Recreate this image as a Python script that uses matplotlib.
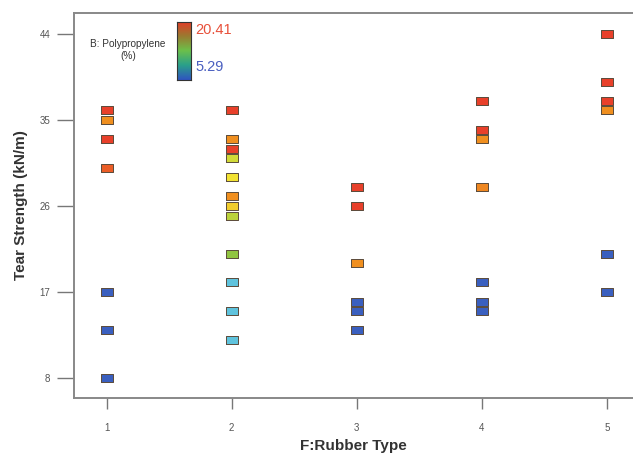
import matplotlib
matplotlib.use("Agg")
import matplotlib.pyplot as plt
import numpy as np
from matplotlib.colors import LinearSegmentedColormap, Normalize

plt.rcParams["font.family"] = ["Liberation Sans", "DejaVu Sans"]

# runs: rubber type, tear strength, polypropylene level
rubber_type = [1, 1, 1, 1, 1, 1, 1,
               2, 2, 2, 2, 2, 2, 2, 2, 2, 2, 2, 2,
               3, 3, 3, 3, 3, 3,
               4, 4, 4, 4, 4, 4, 4,
               5, 5, 5, 5, 5, 5]
tear_strength = [36, 35, 33, 30, 17, 13, 8,
                 36, 33, 32, 31, 29, 27, 26, 25, 21, 18, 15, 12,
                 28, 26, 20, 16, 15, 13,
                 37, 34, 33, 28, 18, 16, 15,
                 44, 39, 37, 36, 21, 17]
polypropylene = [20.41, 17.5, 20.41, 19.3, 5.29, 5.29, 5.29,
                 20.41, 17.5, 20.41, 14.2, 15.2, 17.5, 15.8, 13.6, 12.4, 8.6, 8.6, 8.6,
                 20.41, 20.41, 17.5, 5.29, 5.29, 5.29,
                 20.41, 20.41, 17.5, 17.8, 5.29, 5.29, 5.29,
                 20.41, 20.41, 20.41, 17.5, 5.29, 5.29]

x_ticks = [1, 2, 3, 4, 5]
y_ticks = [8, 17, 26, 35, 44]
pp_min, pp_max = 5.29, 20.41

cmap = LinearSegmentedColormap.from_list(
    "pp",
    [(0.0, "#3a5fbf"), (0.2, "#5cc3ea"), (0.45, "#86c043"),
     (0.65, "#f2e533"), (0.8, "#f0921f"), (1.0, "#e8402a")],
)
norm = Normalize(pp_min, pp_max)

fig = plt.figure(figsize=(6.33, 4.55), dpi=100)
ax = fig.add_axes([0.117, 0.1253, 0.883, 0.8461])

rect = [(-1, -0.6), (1, -0.6), (1, 0.6), (-1, 0.6), (-1, -0.6)]
for x, y, p in zip(rubber_type, tear_strength, polypropylene):
    ax.plot(x, y, linestyle="none", marker=rect, markersize=8.6,
            markerfacecolor=cmap(norm(p)), markeredgecolor="#5a4a3a",
            markeredgewidth=0.7)

ax.set_xlim(0.74, 5.21)
ax.set_ylim(5.9, 46.2)
ax.set_xticks(x_ticks)
ax.set_yticks(y_ticks)
ax.tick_params(axis="both", direction="out", colors="#777777",
               labelcolor="#555555", labelsize=7, width=1.0)
ax.tick_params(axis="y", length=12, pad=5)
ax.tick_params(axis="x", length=8, pad=10)

for side in ["left", "bottom", "top"]:
    ax.spines[side].set_color("#888888")
    ax.spines[side].set_linewidth(1.4)
ax.spines["right"].set_visible(False)

ax.set_xlabel("F:Rubber Type", fontsize=11, fontweight="bold", color="#333333", labelpad=4)
ax.set_ylabel("Tear Strength (kN/m)", fontsize=11, fontweight="bold", color="#333333",
              labelpad=8)

# colour key in the top left corner
fig.text(0.202, 0.903, "B: Polypropylene", fontsize=7.2, color="#333333",
         ha="center", va="center")
fig.text(0.202, 0.877, "(%)", fontsize=7.2, color="#333333",
         ha="center", va="center")

cax = fig.add_axes([0.2796, 0.824, 0.0221, 0.1275])
gradient = np.linspace(1, 0, 100).reshape(-1, 1)
cax.imshow(gradient, aspect="auto", cmap=LinearSegmentedColormap.from_list(
    "bar", ["#2f55c0", "#2aa08a", "#6cc04a", "#9a7a30", "#e53a28"]),
    vmin=0, vmax=1)
cax.set_xticks([])
cax.set_yticks([])
for s in cax.spines.values():
    s.set_color("#333333")
    s.set_linewidth(0.8)

fig.text(0.308, 0.934, f"{pp_max:.2f}", fontsize=10.5, color="#e8503a",
         ha="left", va="center")
fig.text(0.308, 0.853, f"{pp_min:.2f}", fontsize=10.5, color="#4a5fc0",
         ha="left", va="center")

fig.savefig("out.png", dpi=100)
